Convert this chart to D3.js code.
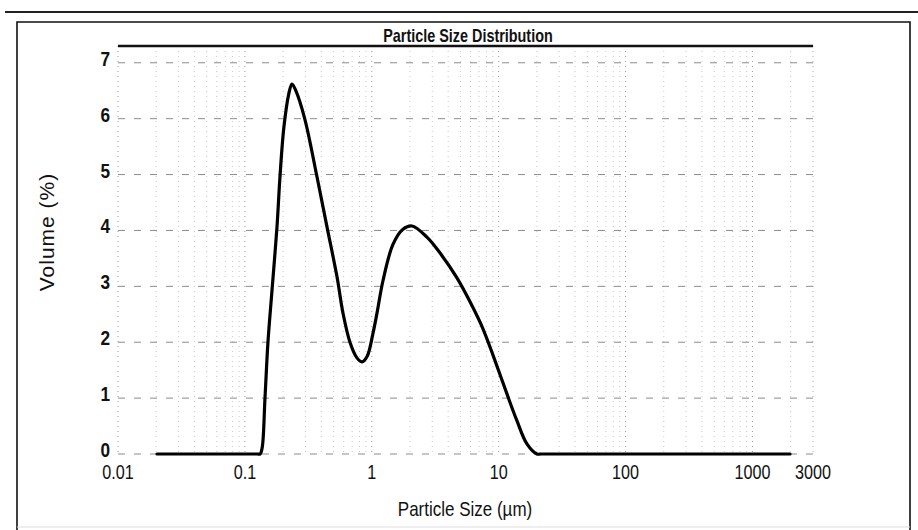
<!DOCTYPE html>
<html>
<head>
<meta charset="utf-8">
<script src="https://cdn.jsdelivr.net/npm/d3@7"></script>
<style>
  html, body { margin: 0; padding: 0; background: #fff; }
  svg { display: block; }
  text { font-family: "Liberation Sans", Arial, Helvetica, sans-serif; fill: #111; }
</style>
</head>
<body>
<svg id="chart" width="918" height="530"></svg>
<script>
// ---- data ----
const title = "Particle Size Distribution";
const xTitle = "Particle Size (\u00b5m)";
const yTitle = "Volume (%)";
const xTicks = [0.01, 0.1, 1, 10, 100, 1000, 3000];
const xTickLabels = ["0.01", "0.1", "1", "10", "100", "1000", "3000"];
const yTicks = [0, 1, 2, 3, 4, 5, 6, 7];
const sizes = [0.0203, 0.05, 0.1, 0.125, 0.132, 0.137, 0.144, 0.152, 0.1636, 0.179, 0.189, 0.203, 0.222, 0.235,
               0.252, 0.296, 0.370, 0.444, 0.532, 0.593, 0.673, 0.764, 0.837, 0.920, 1.02, 1.099, 1.225, 1.469,
               1.762, 2.074, 2.72, 3.44, 4.69, 6.27, 7.52, 9.02, 11.6, 13.9, 16.7, 20.0, 21.5, 24, 100, 1000, 1977];
const volumes = [0, 0, 0, 0, 0, 0.12, 1.0, 2.0, 2.93, 4.06, 4.96, 5.85, 6.45, 6.62,
                 6.5, 6.0, 4.96, 4.06, 3.17, 2.52, 2.00, 1.72, 1.65, 1.75, 2.15, 2.52, 3.10, 3.75,
                 4.02, 4.08, 3.88, 3.60, 3.15, 2.62, 2.24, 1.77, 1.08, 0.60, 0.18, 0, 0, 0, 0, 0, 0];

// ---- drawing ----
const svg = d3.select("#chart");
const x = d3.scaleLog().domain([0.01, 3000]).range([118, 813]);
const y = d3.scaleLinear().domain([0, 7.3]).range([454, 46]);

// frame lines
svg.append("line").attr("x1", 5).attr("x2", 918).attr("y1", 12).attr("y2", 12)
  .attr("stroke", "#222").attr("stroke-width", 2.2);
svg.append("path").attr("d", "M17,530 L17,22 L910,22 L910,530")
  .attr("fill", "none").attr("stroke", "#111").attr("stroke-width", 1.6);
svg.append("line").attr("x1", 17).attr("x2", 910).attr("y1", 527).attr("y2", 527)
  .attr("stroke", "#ddd").attr("stroke-width", 1);

// vertical grid (log minor grid)
const vGrid = [];
for (let e = -2; e <= 3; e++) {
  for (let m = 1; m <= 9; m++) {
    const v = m * Math.pow(10, e);
    if (v >= 0.01 && v <= 3000 * 1.0001) vGrid.push(v);
  }
}
vGrid.push(3000);
svg.append("g").selectAll("line").data(vGrid).join("line")
  .attr("x1", d => x(d)).attr("x2", d => x(d))
  .attr("y1", y(7.3)).attr("y2", y(0))
  .attr("stroke", d => (Math.abs(Math.log10(d) - Math.round(Math.log10(d))) < 1e-9 ? "#9a9a9a" : "#c8c8c8"))
  .attr("stroke-width", 1)
  .attr("stroke-dasharray", "1,4");

// horizontal grid
svg.append("g").selectAll("line").data(yTicks).join("line")
  .attr("x1", x(0.01)).attr("x2", x(3000))
  .attr("y1", d => y(d)).attr("y2", d => y(d))
  .attr("stroke", "#8c8c8c").attr("stroke-width", 1)
  .attr("stroke-dasharray", "7,9");

// plot top line
svg.append("line").attr("x1", x(0.01)).attr("x2", x(3000)).attr("y1", y(7.3)).attr("y2", y(7.3))
  .attr("stroke", "#111").attr("stroke-width", 2.6);

// title
svg.append("text").attr("transform", "translate(468,42) scale(0.8,1)")
  .attr("text-anchor", "middle").attr("font-size", 18).attr("font-weight", "bold").text(title);

// y tick labels
svg.append("g").selectAll("text").data(yTicks).join("text")
  .attr("transform", d => `translate(110,${y(d) + 3}) scale(0.82,1)`)
  .attr("text-anchor", "end").attr("font-size", 21).attr("font-weight", "bold")
  .text(d => d);

// x tick labels
svg.append("g").selectAll("text").data(xTicks).join("text")
  .attr("transform", d => `translate(${x(d)},479) scale(0.77,1)`)
  .attr("text-anchor", "middle").attr("font-size", 21)
  .text((d, i) => xTickLabels[i]);

// axis titles
svg.append("text").attr("transform", "translate(465,516) scale(0.85,1)")
  .attr("text-anchor", "middle").attr("font-size", 20).text(xTitle);
svg.append("text").attr("transform", "translate(54,232) rotate(-90)")
  .attr("text-anchor", "middle").attr("font-size", 21).attr("letter-spacing", 1).text(yTitle);

// curve
const pts = sizes.map((s, i) => [s, volumes[i]]);
const line = d3.line().x(d => x(d[0])).y(d => y(d[1])).curve(d3.curveCatmullRom.alpha(0.5));
svg.append("path").datum(pts).attr("d", line)
  .attr("fill", "none").attr("stroke", "#000").attr("stroke-width", 3.2)
  .attr("stroke-linejoin", "round").attr("stroke-linecap", "round");
</script>
</body>
</html>
